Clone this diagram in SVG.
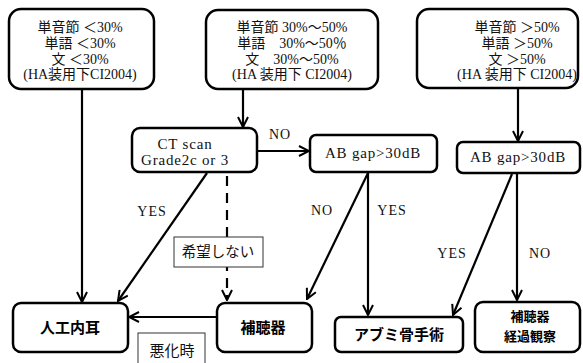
<svg xmlns="http://www.w3.org/2000/svg" width="583" height="363" viewBox="0 0 583 363">
<defs>
<marker id="ah" viewBox="0 0 12 12" refX="11" refY="6" markerWidth="12" markerHeight="12" markerUnits="userSpaceOnUse" orient="auto">
<path d="M1,1 L11,6 L1,11" fill="none" stroke="#000" stroke-width="2"/>
</marker>
<style>
.box{fill:#fff;stroke:#000;stroke-width:2.5}
.lab{fill:#fff;stroke:#333;stroke-width:1}
.t{font-family:"Liberation Serif","Noto Sans CJK JP",serif;font-size:14px;fill:#111;text-anchor:middle}
.w{font-size:15px;letter-spacing:0.8px}
.y{font-size:14px;letter-spacing:1px}
.b{font-family:"Noto Sans CJK JP",sans-serif;font-size:15px;font-weight:bold;fill:#000;text-anchor:middle}
.s{font-size:13px}
.c{stroke:#000;stroke-width:2.2;fill:none;marker-end:url(#ah)}
.d{stroke-dasharray:10,7}
</style>
</defs>
<rect width="583" height="363" fill="#fff"/>
<g id="connectors">
<line class="c" x1="82" y1="89" x2="82" y2="302"/>
<line class="c" x1="243" y1="89" x2="243" y2="127"/>
<line class="c" x1="518" y1="89" x2="518" y2="141"/>
<line class="c" x1="257" y1="151" x2="309" y2="151"/>
<line class="c" x1="207" y1="173" x2="118" y2="301"/>
<line class="c d" x1="227" y1="176" x2="227" y2="300"/>
<line class="c" x1="368" y1="173" x2="307" y2="299"/>
<line class="c" x1="368" y1="173" x2="368" y2="315"/>
<line class="c" x1="512" y1="174" x2="453" y2="315"/>
<line class="c" x1="517" y1="174" x2="517" y2="300"/>
<line class="c" x1="217" y1="317" x2="129" y2="317"/>
</g>
<g id="n1"><rect class="box" x="9" y="9" width="145" height="80" rx="12"/>
<text class="t" x="80" y="32">単音節 ＜30%</text>
<text class="t" x="80" y="48">単語 ＜30%</text>
<text class="t" x="80" y="64">文 ＜30%</text>
<text class="t" x="80" y="79">(HA装用下CI2004)</text></g>
<g id="n2"><rect class="box" x="206" y="10" width="172" height="79" rx="12"/>
<text class="t" x="292" y="32">単音節 30%～50%</text>
<text class="t" x="292" y="48">単語　30%～50％</text>
<text class="t" x="292" y="64">文　30%～50%</text>
<text class="t" x="292" y="79">(HA 装用下 CI2004)</text></g>
<g id="n3"><rect class="box" x="417" y="9" width="161" height="79" rx="12"/>
<text class="t" x="517" y="32">単音節 ＞50%</text>
<text class="t" x="517" y="48">単語 ＞50%</text>
<text class="t" x="517" y="64">文 ＞50%</text>
<text class="t" x="517" y="79">(HA 装用下 CI2004)</text></g>
<g id="ct"><rect class="box" x="132" y="128" width="125" height="44" rx="8"/>
<text class="t w" x="185" y="149">CT scan</text>
<text class="t w" x="185" y="165">Grade2c or 3</text></g>
<g id="ab1"><rect class="box" x="310" y="135" width="127" height="37" rx="6"/>
<text class="t w" x="373" y="158">AB gap&gt;30dB</text></g>
<g id="ab2"><rect class="box" x="457" y="142" width="123" height="31" rx="6"/>
<text class="t w" x="518" y="162">AB gap&gt;30dB</text></g>
<g id="ci"><rect class="box" x="13" y="303" width="115" height="49" rx="8"/>
<text class="b" x="70" y="333">人工内耳</text></g>
<g id="ha"><rect class="box" x="217" y="303" width="95" height="49" rx="8"/>
<text class="b" x="263" y="333">補聴器</text></g>
<g id="st"><rect class="box" x="335" y="317" width="128" height="35" rx="6"/>
<text class="b" x="399" y="340">アブミ骨手術</text></g>
<g id="ob"><rect class="box" x="475" y="302" width="105" height="50" rx="8"/>
<text class="b s" x="530" y="321">補聴器</text>
<text class="b s" x="530" y="341">経過観察</text></g>
<g id="lbl1"><rect class="lab" x="174" y="237" width="89" height="30"/>
<text class="t" x="218" y="257" style="font-size:14.5px">希望しない</text></g>
<g id="lbl2"><rect class="lab" x="138" y="333" width="67" height="35"/>
<text class="t" x="172" y="356" style="font-size:15px">悪化時</text></g>
<g id="labels">
<text class="t y" x="280" y="139">NO</text>
<text class="t y" x="152" y="216">YES</text>
<text class="t y" x="322" y="215">NO</text>
<text class="t y" x="392" y="215">YES</text>
<text class="t y" x="452" y="258">YES</text>
<text class="t y" x="540" y="258">NO</text>
</g>
</svg>
